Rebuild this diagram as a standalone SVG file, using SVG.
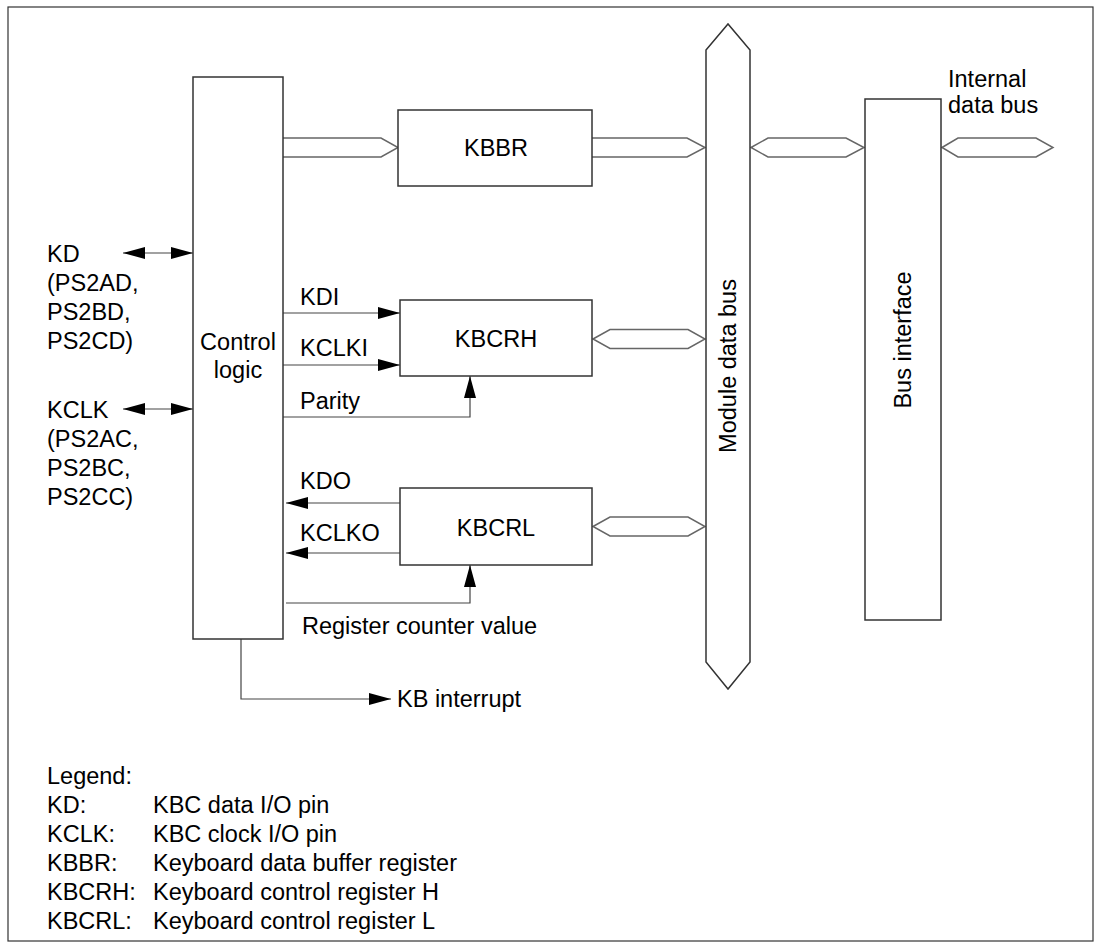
<svg xmlns="http://www.w3.org/2000/svg" width="1101" height="949" viewBox="0 0 1101 949">
<style>
text{font-family:"Liberation Sans",Arial,sans-serif;font-size:23.5px;fill:#000}
.box{fill:#fff;stroke:#333;stroke-width:1.5}
.bus{fill:#fff;stroke:#666;stroke-width:1.5}
.ln{fill:none;stroke:#444;stroke-width:1.2}
.c{text-anchor:middle}
</style>
<defs>
<marker id="ah" markerUnits="userSpaceOnUse" markerWidth="22" markerHeight="12" viewBox="0 0 22 12" refX="22" refY="6" orient="auto-start-reverse"><path d="M0,0 L22,6 L0,12 z" fill="#000"/></marker>
</defs>
<rect x="8" y="7" width="1085" height="934" fill="#fff" stroke="#333" stroke-width="1.2"/>
<g id="connectors">
<path class="bus" d="M283,138 H381 L398,147.5 L381,157 H283"/>
<path class="bus" d="M592,138 H687 L705,147.5 L687,157 H592"/>
<polygon class="bus" points="751,147.5 768,138 846,138 864,147.5 846,157 768,157"/>
<polygon class="bus" points="942,147.5 958,138 1036,138 1053,147.5 1036,157 958,157"/>
<polygon class="bus" points="593,339 610,329.5 688,329.5 705,339 688,348.5 610,348.5"/>
<polygon class="bus" points="593,526.5 610,517 688,517 705,526.5 688,536 610,536"/>
<line class="ln" x1="123" y1="253" x2="193" y2="253" marker-start="url(#ah)" marker-end="url(#ah)"/>
<line class="ln" x1="123" y1="409" x2="193" y2="409" marker-start="url(#ah)" marker-end="url(#ah)"/>
<line class="ln" x1="283" y1="313" x2="400" y2="313" marker-end="url(#ah)"/>
<line class="ln" x1="283" y1="365" x2="400" y2="365" marker-end="url(#ah)"/>
<path class="ln" d="M283,417 H470 V376" marker-end="url(#ah)"/>
<line class="ln" x1="400" y1="503" x2="286" y2="503" marker-end="url(#ah)"/>
<line class="ln" x1="400" y1="553" x2="286" y2="553" marker-end="url(#ah)"/>
<path class="ln" d="M286,603 H470 V565" marker-end="url(#ah)"/>
<path class="ln" d="M241,639 V699 H391" marker-end="url(#ah)"/>
</g>
<g id="control-logic">
<rect class="box" x="193" y="77" width="90" height="562"/>
<text class="c" x="238" y="350">Control</text>
<text class="c" x="238" y="378">logic</text>
</g>
<g id="kbbr">
<rect class="box" x="398" y="110" width="194" height="76"/>
<text class="c" x="496" y="156">KBBR</text>
</g>
<g id="kbcrh">
<rect class="box" x="400" y="300" width="192" height="76"/>
<text class="c" x="496" y="347">KBCRH</text>
</g>
<g id="kbcrl">
<rect class="box" x="400" y="488" width="192" height="77"/>
<text class="c" x="496" y="536">KBCRL</text>
</g>
<g id="module-data-bus">
<polygon class="box" points="706,50 728,24 750,50 750,662 728,689 706,662"/>
<text class="c" transform="translate(736,366) rotate(-90)">Module data bus</text>
</g>
<g id="bus-interface">
<rect class="box" x="865" y="99" width="76" height="521"/>
<text class="c" transform="translate(911,340) rotate(-90)">Bus interface</text>
</g>
<g id="labels">
<text x="948" y="87">Internal</text>
<text x="948" y="113">data bus</text>
<text x="47" y="262">KD</text>
<text x="47" y="291">(PS2AD,</text>
<text x="47" y="320">PS2BD,</text>
<text x="47" y="349">PS2CD)</text>
<text x="47" y="418">KCLK</text>
<text x="47" y="447">(PS2AC,</text>
<text x="47" y="476">PS2BC,</text>
<text x="47" y="505">PS2CC)</text>
<text x="300" y="305">KDI</text>
<text x="300" y="356">KCLKI</text>
<text x="300" y="409">Parity</text>
<text x="300" y="489">KDO</text>
<text x="300" y="541">KCLKO</text>
<text x="302" y="634">Register counter value</text>
<text x="397" y="707">KB interrupt</text>
</g>
<g id="legend">
<text x="47" y="784">Legend:</text>
<text x="47" y="813">KD:</text><text x="153" y="813">KBC data I/O pin</text>
<text x="47" y="842">KCLK:</text><text x="153" y="842">KBC clock I/O pin</text>
<text x="47" y="871">KBBR:</text><text x="153" y="871">Keyboard data buffer register</text>
<text x="47" y="900">KBCRH:</text><text x="153" y="900">Keyboard control register H</text>
<text x="47" y="929">KBCRL:</text><text x="153" y="929">Keyboard control register L</text>
</g>
</svg>
